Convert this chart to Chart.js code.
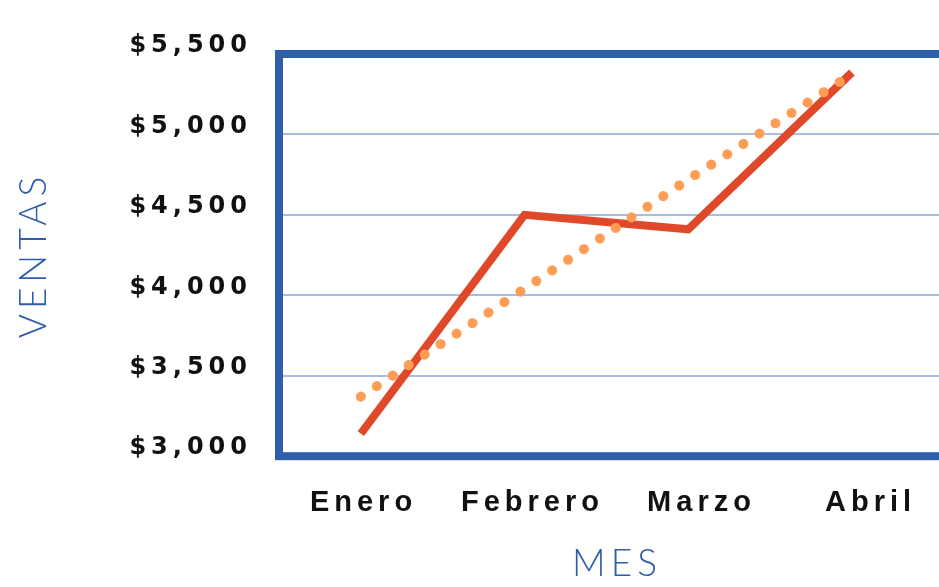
<!DOCTYPE html>
<html>
<head>
<meta charset="utf-8">
<script src="https://cdn.jsdelivr.net/npm/chart.js@4.4.1/dist/chart.umd.min.js"></script>
<style>
    html, body { margin: 0; padding: 0; background: #fff; overflow: hidden; }
    #wrap { position: relative; width: 1000px; height: 587px; }
</style>
</head>
<body>
<div id="wrap"><canvas id="chart"></canvas></div>
<script>
// Chart data
const MESES = ['Enero', 'Febrero', 'Marzo', 'Abril'];
const VENTAS = [3140, 4500, 4410, 5385];
const TENDENCIA = [3370, 4040, 4720, 5375];
const Y_TICKS = [3000, 3500, 4000, 4500, 5000, 5500];

const BLUE = '#2e5fa8';
const GRID = '#a9bde0';

// text spacing + plot frame (left/top/bottom, right side runs off the page)
const framePlugin = {
    id: 'frame',
    beforeUpdate(chart) { chart.ctx.letterSpacing = '5px'; },
    beforeDraw(chart) { chart.ctx.letterSpacing = '5px'; },
    beforeDatasetsDraw(chart) {
        const { ctx, chartArea: a } = chart;
        ctx.save();
        ctx.strokeStyle = BLUE;
        ctx.lineWidth = 8;
        ctx.strokeRect(a.left, a.top, a.right - a.left, a.bottom - a.top);
        ctx.restore();
    }
};

const ctx = document.getElementById('chart').getContext('2d');
new Chart(ctx, {
    type: 'line',
    data: {
        datasets: [
            {
                label: 'Tendencia',
                data: TENDENCIA.map((v, i) => ({ x: i, y: v })),
                borderColor: '#ff9d55',
                borderWidth: 10,
                borderDash: [0.1, 19],
                borderCapStyle: 'round',
                pointRadius: 0,
                order: 0
            },
            {
                label: 'Ventas',
                data: VENTAS.map((v, i) => ({ x: i, y: v })),
                borderColor: '#e0482a',
                borderWidth: 8,
                borderCapStyle: 'butt',
                borderJoinStyle: 'miter',
                pointRadius: 0,
                order: 1
            }
        ]
    },
    options: {
        responsive: true,
        maintainAspectRatio: false,
        animation: false,
        layout: { padding: { left: 12, right: 45, top: 54, bottom: 7 } },
        plugins: { legend: { display: false }, tooltip: { enabled: false } },
        scales: {
            x: {
                type: 'linear',
                display: false,
                min: -0.5,
                max: 3.63
            },
            xl: {
                type: 'category',
                position: 'bottom',
                labels: MESES,
                offset: true,
                grid: { display: false, drawTicks: false },
                border: { display: false },
                ticks: {
                    color: '#111',
                    padding: 29,
                    font: { family: 'Liberation Sans', weight: 'bold', size: 29 }
                },
                title: {
                    display: true,
                    text: 'MES',
                    color: BLUE,
                    padding: { top: 0, bottom: 0 },
                    font: { family: 'Lato', weight: '300', size: 37, lineHeight: 0.838 }
                }
            },
            y: {
                min: 3000,
                max: 5500,
                afterBuildTicks: (scale) => { scale.ticks = Y_TICKS.map(v => ({ value: v })); },
                grid: { color: GRID, lineWidth: 2, drawTicks: false },
                border: { display: false },
                ticks: {
                    color: '#111',
                    padding: 27,
                    labelOffset: -8,
                    font: { family: 'DejaVu Sans', weight: 'bold', size: 24 },
                    callback: (v) => '$' + v.toLocaleString('en-US')
                },
                title: {
                    display: true,
                    text: 'VENTAS',
                    color: BLUE,
                    padding: { top: 0, bottom: 46 },
                    font: { family: 'Lato', weight: '300', size: 37 }
                }
            }
        }
    },
    plugins: [framePlugin]
});
</script>
</body>
</html>
